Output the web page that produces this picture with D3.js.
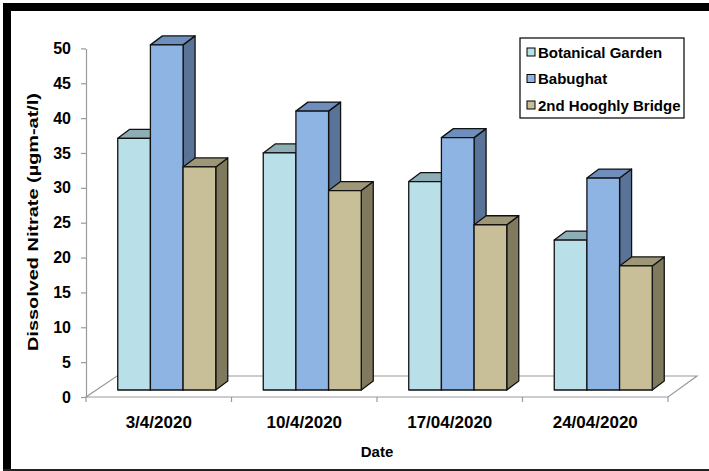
<!DOCTYPE html>
<html>
<head>
<meta charset="utf-8">
<script src="https://cdn.jsdelivr.net/npm/d3@7"></script>
<style>
  html, body { margin: 0; padding: 0; background: #fff; }
  svg { display: block; }
  text { font-family: "Liberation Sans", Arial, sans-serif; font-weight: bold; fill: #000; }
</style>
</head>
<body>
<svg id="chart" width="709" height="471"></svg>
<script>
// Dissolved nitrate at three sampling sites, April 2020
const dates = ["3/4/2020", "10/4/2020", "17/04/2020", "24/04/2020"];
const sites = ["Botanical Garden", "Babughat", "2nd Hooghly Bridge"];
const botanicalGarden = [36.1, 34.0, 29.9, 21.5];
const babughat = [49.5, 40.0, 36.2, 30.4];
const hooghlyBridge = [32.0, 28.6, 23.7, 17.8];
const yTicks = [0, 5, 10, 15, 20, 25, 30, 35, 40, 45, 50];
const yTitle = "Dissolved Nitrate (µgm-at/l)";
const xTitle = "Date";

const seriesValues = [botanicalGarden, babughat, hooghlyBridge];

// face colours per series: front, top, side
const palette = [
  { front: "#B9DFE9", top: "#8EAEB5", side: "#7E9BA2" },
  { front: "#8EB4E3", top: "#6E8EBE", side: "#5A7499" },
  { front: "#C8BF98", top: "#9E9777", side: "#7F7A5D" }
];

const svg = d3.select("#chart");

// outer frame
svg.append("rect").attr("x", 3).attr("y", 3).attr("width", 706).attr("height", 8).attr("fill", "#000");
svg.append("rect").attr("x", 3).attr("y", 3).attr("width", 8).attr("height", 468).attr("fill", "#000");
svg.append("rect").attr("x", 3).attr("y", 469).attr("width", 706).attr("height", 2).attr("fill", "#222");

// plot geometry
const left = 86, right = 668, y0px = 397, y50px = 48.4;
const floorDepth = { dx: 29, dy: -21 };   // full depth of the floor
const barOffset = { dx: 8, dy: -7 };      // plane of the bar fronts
const barDepth = { dx: 12, dy: -9 };      // depth of each column

const x0 = d3.scaleBand().domain(dates).range([left, right]).paddingInner(0).paddingOuter(0);
const x1 = d3.scaleBand().domain(sites).range([0, x0.bandwidth()]).paddingInner(0).paddingOuter(0.727);
const y = d3.scaleLinear().domain([0, 50]).range([y0px, y50px]);

// floor
const floor = svg.append("g");
const fpts = [
  [left, y0px], [right, y0px],
  [right + floorDepth.dx, y0px + floorDepth.dy], [left + floorDepth.dx + 2, y0px + floorDepth.dy]
];
floor.append("path")
  .attr("d", "M" + fpts.map(p => p.join(",")).join("L") + "Z")
  .attr("fill", "#fff").attr("stroke", "#9a9a9a").attr("stroke-width", 1.2);

// y axis
const yAxis = svg.append("g")
  .attr("transform", `translate(${left},0)`)
  .call(d3.axisLeft(y).tickValues(yTicks).tickSize(5).tickPadding(10).tickSizeOuter(0));
yAxis.select(".domain").attr("stroke", "#9a9a9a").attr("stroke-width", 1.2);
yAxis.selectAll(".tick line").attr("stroke", "#9a9a9a").attr("stroke-width", 1.2);
yAxis.selectAll(".tick text").attr("font-size", 16).attr("font-family", null).attr("fill", "#000");

// x axis: boundary ticks plus centred date labels
const xAxis = svg.append("g").attr("transform", `translate(0,${y0px})`)
  .call(d3.axisBottom(x0).tickSize(0).tickPadding(19));
xAxis.select(".domain").remove();
xAxis.selectAll(".tick text").attr("font-size", 17).attr("font-family", null).attr("fill", "#000");
const bounds = dates.map(d => x0(d)).concat([right]);
svg.append("g").selectAll("line").data(bounds).join("line")
  .attr("x1", d => d).attr("x2", d => d)
  .attr("y1", y0px).attr("y2", y0px + 5)
  .attr("stroke", "#9a9a9a").attr("stroke-width", 1.2);

// 3D columns
const bars = svg.append("g");
dates.forEach((d, i) => {
  sites.forEach((s, j) => {
    const v = seriesValues[j][i];
    const c = palette[j];
    const xl = x0(d) + x1(s) + barOffset.dx;
    const xr = xl + x1.bandwidth();
    const yt = y(v) + barOffset.dy;
    const yb = y(0) + barOffset.dy;
    const g = bars.append("g").attr("stroke", "#111").attr("stroke-width", 1.3).attr("stroke-linejoin", "round");
    // side face
    g.append("path")
      .attr("d", `M${xr},${yb}L${xr},${yt}L${xr + barDepth.dx},${yt + barDepth.dy}L${xr + barDepth.dx},${yb + barDepth.dy}Z`)
      .attr("fill", c.side);
    // top face
    g.append("path")
      .attr("d", `M${xl},${yt}L${xr},${yt}L${xr + barDepth.dx},${yt + barDepth.dy}L${xl + barDepth.dx},${yt + barDepth.dy}Z`)
      .attr("fill", c.top);
    // front face
    g.append("rect")
      .attr("x", xl).attr("y", yt).attr("width", xr - xl).attr("height", yb - yt)
      .attr("fill", c.front);
  });
});

// axis titles
svg.append("text")
  .attr("x", (left + right) / 2).attr("y", 457)
  .attr("text-anchor", "middle").attr("font-size", 15)
  .text(xTitle);
svg.append("text")
  .attr("transform", "translate(38,222) rotate(-90)")
  .attr("text-anchor", "middle").attr("font-size", 14)
  .attr("textLength", 258).attr("lengthAdjust", "spacingAndGlyphs")
  .text(yTitle);

// legend
const legend = svg.append("g");
legend.append("rect").attr("x", 520).attr("y", 38).attr("width", 164).attr("height", 80)
  .attr("fill", "#fff").attr("stroke", "#000").attr("stroke-width", 1.2);
const rows = legend.selectAll("g.item").data(sites).join("g").attr("class", "item")
  .attr("transform", (d, i) => `translate(527,${52 + i * 26.5})`);
rows.append("rect").attr("x", 0).attr("y", -4).attr("width", 8).attr("height", 8)
  .attr("fill", (d, i) => palette[i].front).attr("stroke", "#000").attr("stroke-width", 1);
rows.append("text").attr("x", 11).attr("y", 5.5).attr("font-size", 15).text(d => d);
</script>
</body>
</html>
